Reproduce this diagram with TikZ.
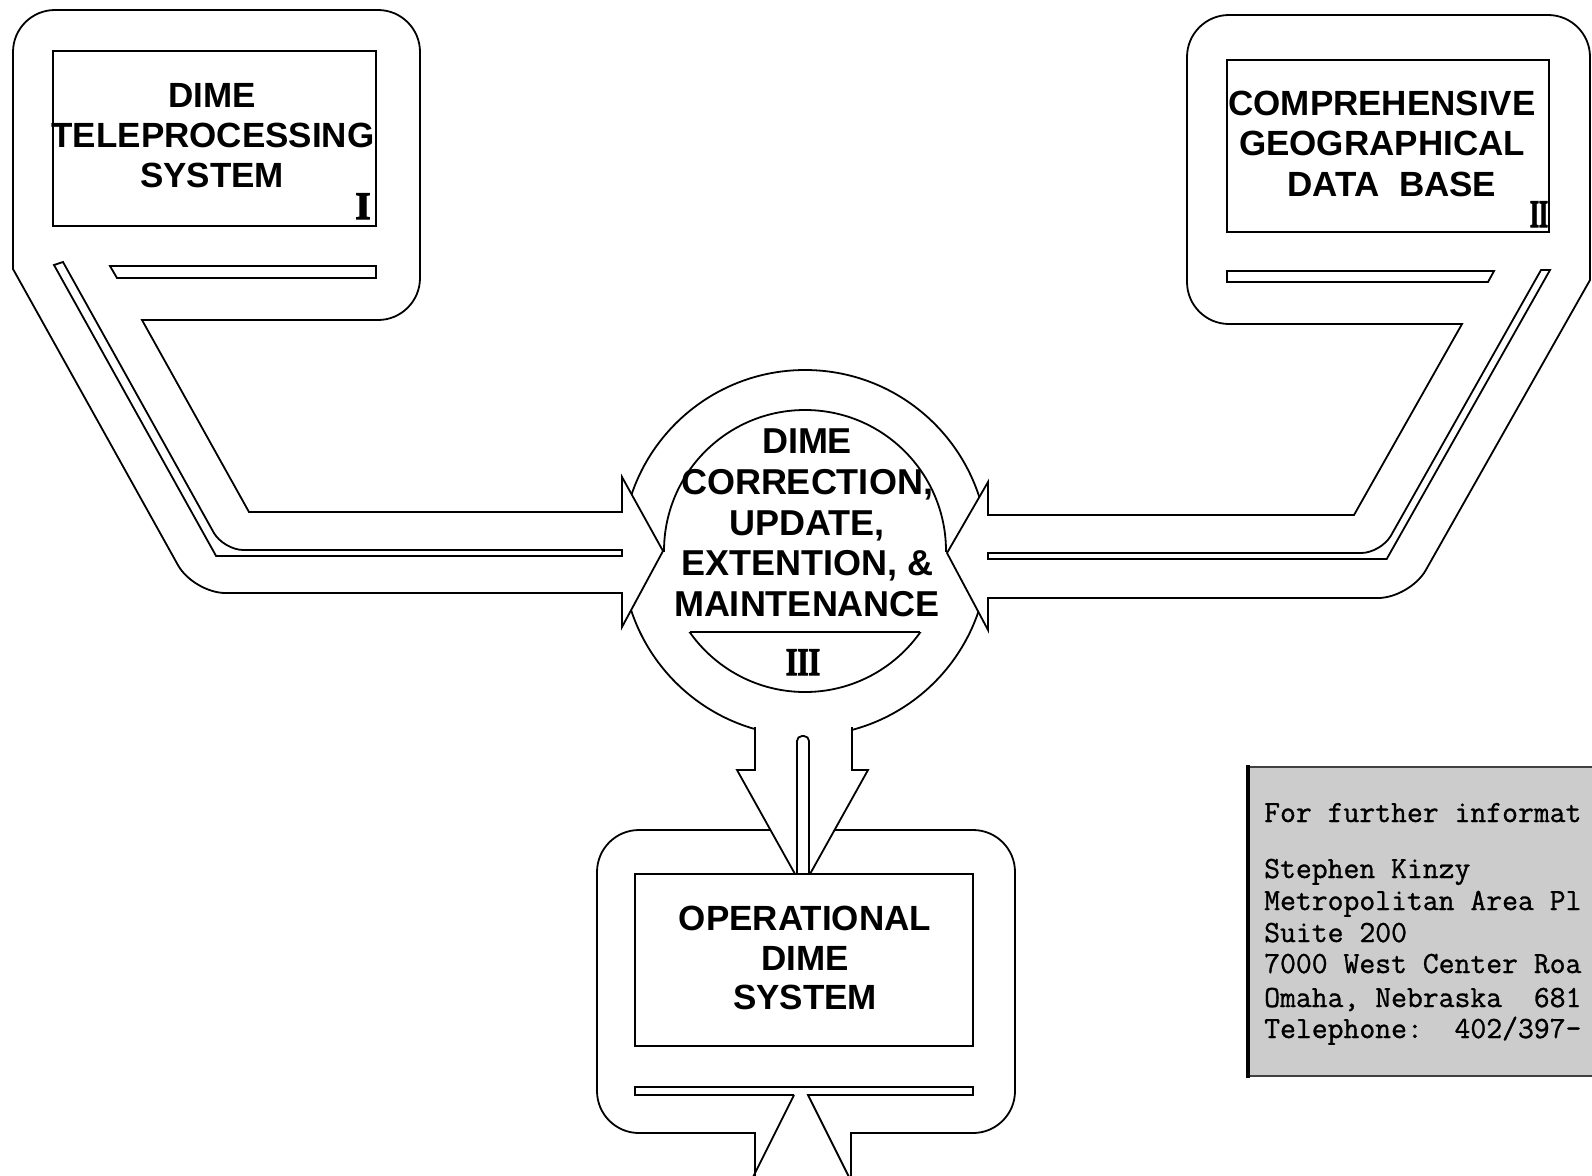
\documentclass[tikz,border=0pt]{standalone}
\usepackage{fontspec}
\newfontfamily\hsans{Liberation Sans}
\newfontfamily\rnum{Liberation Serif Bold}[FakeBold=3]
\newfontfamily\tmono{Latin Modern Mono}[FakeBold=1]
\begin{document}
\begin{tikzpicture}[x=1pt,y=-1pt,
  outline/.style={draw=black,line width=1.8pt,fill=white},
  ln/.style={draw=black,line width=1.8pt},
  lbl/.style={font=\hsans\bfseries\fontsize{35}{40}\selectfont,inner sep=0pt,anchor=base},
  clbl/.style={font=\hsans\bfseries\fontsize{36}{40}\selectfont,inner sep=0pt,anchor=base},
  num/.style={font=\rnum\fontsize{39}{40}\selectfont,inner sep=0pt,anchor=base},
  mono/.style={font=\tmono\fontsize{30.8}{32}\selectfont,inner sep=0pt,anchor=base west}]
\useasboundingbox (0,0) rectangle (1592,1175);
\clip (0,0) rectangle (1592,1175);
\fill[white] (0,0) rectangle (1592,1175);

% central circle
\draw[ln] (805,553) circle[radius=183pt];

% box I with its connector
\path[outline] (13,150) [rounded corners=42pt] -- (13,10) -- (420,10) -- (420,320) -- (300,320)
  [sharp corners] -- (142,320) -- (249,512) -- (622,512) -- (622,477) -- (663,551) -- (622,627)
  -- (622,593) -- (400,593) [rounded corners=32pt] -- (193.5,593) -- (103.3,431)
  [sharp corners] -- (13,269) -- cycle;

% box II with its connector
\path[outline] (1187,150) [rounded corners=42pt] -- (1187,324) -- (1300,324)
  [sharp corners] -- (1462,324) -- (1354,515) -- (988,515) -- (988,482) -- (947,553) -- (988,630)
  -- (988,598) -- (1200,598) [rounded corners=32pt] -- (1410,598) -- (1500,439)
  [sharp corners] -- (1590,280) -- (1590,150) [rounded corners=42pt] -- (1590,15) -- (1187,15) -- cycle;

% box IV outline
\path[ln] (755,1180) -- (755,1133) -- (700,1133) [rounded corners=42pt] -- (597,1133) -- (597,830)
  -- (1015,830) -- (1015,1133) -- (900,1133) [sharp corners] -- (851,1133) -- (851,1180);

% arrow from circle down to box IV
\fill[white] (755,700) -- (755,770) -- (737,770) -- (795,874) -- (810,874) -- (868,770) -- (852,770) -- (852,700) -- cycle;
\draw[ln] (755,727) -- (755,770) -- (737,770) -- (795,874);
\draw[ln] (810,874) -- (868,770) -- (852,770) -- (852,727);
\draw[ln,rounded corners=5pt] (797,874) -- (797,736) -- (809,736) -- (809,874);

% inner rectangles
\draw[ln] (53,51) rectangle (376,226);
\draw[ln] (1227,60) rectangle (1549,232);
\draw[ln] (635,874) rectangle (973,1046);

% slot bars
\draw[ln] (110,266) -- (376,266) -- (376,278) -- (117,278) -- cycle;
\draw[ln] (1227,271) -- (1494,271) -- (1488,282) -- (1227,282) -- cycle;
\draw[ln] (794,1095) -- (635,1095) -- (635,1087) -- (973,1087) -- (973,1095) -- (808,1095) -- (850.5,1180);
\draw[ln] (794,1095) -- (751.5,1180);

% thin bars inside connectors
\draw[ln] (54,265) -- (63,262) -- (143.8,407) [rounded corners=20pt] -- (223.4,550) -- (400,550)
  [sharp corners] -- (622,550) -- (622,556) -- (216.1,556) -- cycle;
\draw[ln] (1541,270) -- (1550,270) -- (1386.7,559) -- (988,559) -- (988,553) -- (1200,553)
  [rounded corners=20pt] -- (1381.1,553) -- (1460.8,412) [sharp corners] -- cycle;

% inner arcs of the circle
\begin{scope}
\clip (600,350) rectangle (1000,551);
\draw[ln] (805,551) circle[radius=141pt];
\end{scope}
\begin{scope}
\clip (600,632) rectangle (1000,720);
\draw[ln] (805,551) circle[radius=141pt];
\end{scope}
\draw[ln] (689.6,632) -- (920.4,632);

% labels
\node[lbl] (a1) at (212,107) {DIME};
\node[lbl] (a2) at (213,147) {TELEPROCESSING};
\node[lbl] (a3) at (212,187) {SYSTEM};
\node[num] (an) at (363,219) {I};

\node[lbl] (b1) at (1382,115) {COMPREHENSIVE};
\node[lbl] (b2) at (1382,155) {GEOGRAPHICAL};
\node[lbl] (b3) at (1392,196) {DATA\ \ BASE};
\node[num] (bn) at (1539,227) {\scalebox{0.6}[1]{II}};

\node[clbl] (c1) at (807,453) {DIME};
\node[clbl] (c2) at (807,494) {CORRECTION,};
\node[clbl] (c3) at (807,535) {UPDATE,};
\node[clbl] (c4) at (807,575) {EXTENTION, \&};
\node[clbl] (c5) at (807,616) {MAINTENANCE};
\node[num] (cn) at (803,675) {\scalebox{0.75}[1]{III}};

\node[lbl] (d1) at (805,930) {OPERATIONAL};
\node[lbl] (d2) at (805,970) {DIME};
\node[lbl] (d3) at (805,1009) {SYSTEM};

% information panel
\fill[black!20] (1248,767) rectangle (1600,1076);
\draw[line width=1.2pt,black!75] (1600,767) -- (1248,767) -- (1248,1076) -- (1600,1076);
\draw[line width=4pt] (1248,765) -- (1248,1078);
\node[mono] (e1) at (1264,822) {For further informat};
\node[mono] (e2) at (1264,878) {Stephen Kinzy};
\node[mono] (e3) at (1264,910) {Metropolitan Area Pl};
\node[mono] (e4) at (1264,942) {Suite 200};
\node[mono] (e5) at (1264,973) {7000 West Center Roa};
\node[mono] (e6) at (1264,1007) {Omaha, Nebraska\ \ 681};
\node[mono] (e7) at (1264,1038) {Telephone:\ \ 402/397-};
\end{tikzpicture}
\end{document}
